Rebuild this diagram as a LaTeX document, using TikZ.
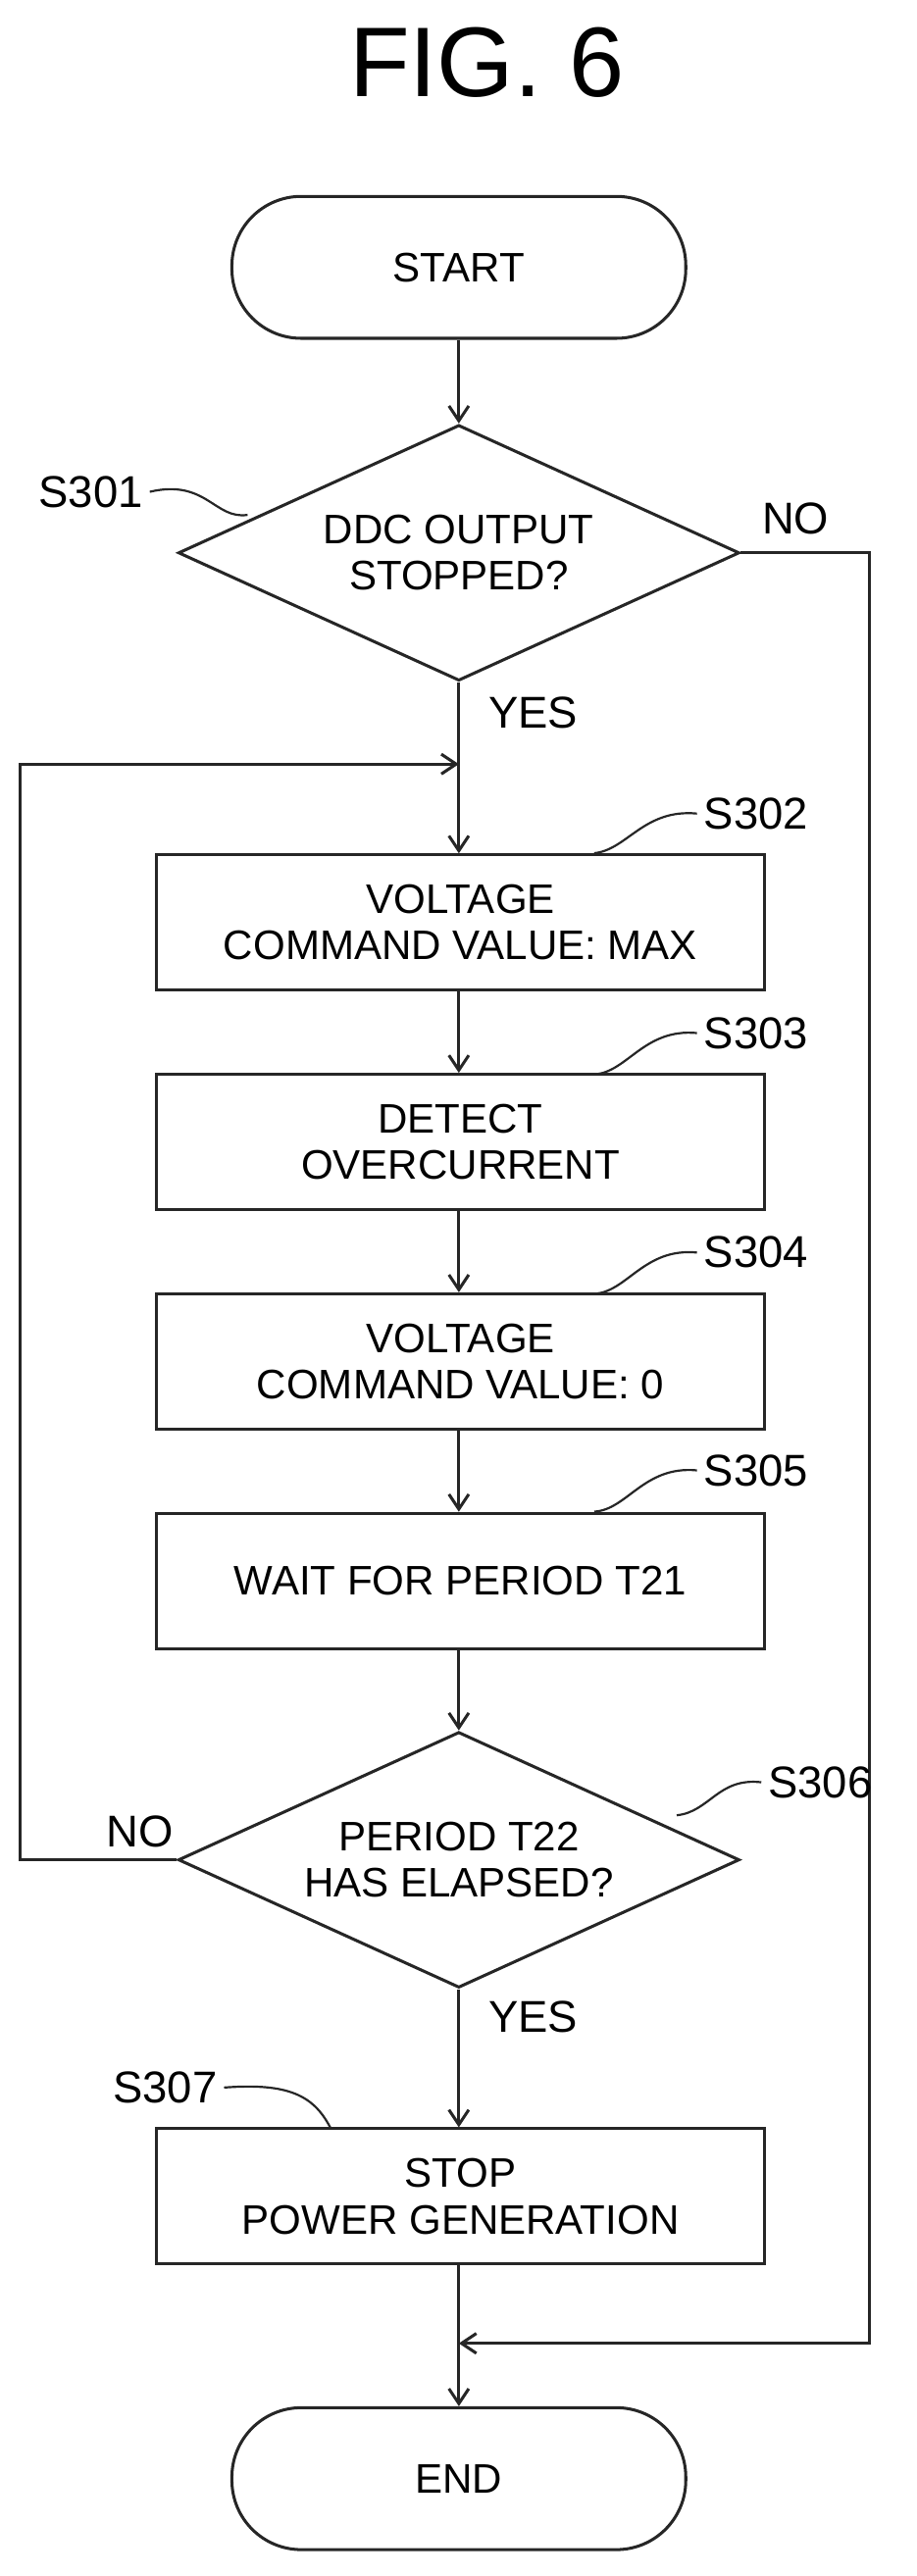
\documentclass[tikz,border=0pt]{standalone}
\usepackage{fontspec}
\setmainfont{Liberation Sans}
\usetikzlibrary{shapes.geometric,arrows.meta}
\begin{document}
\begin{tikzpicture}[x=1pt,y=-1pt,
  line width=1.8pt, draw=black!85,
  txt/.style={font=\fontsize{25}{28}\selectfont, align=center},
  box/.style={draw, minimum width=368pt, minimum height=82pt, txt},
  term/.style={draw, rounded corners=42pt, minimum width=275pt, minimum height=86pt, txt},
  dia/.style={draw, diamond, aspect=2.2, minimum width=340pt, minimum height=155pt, inner sep=0pt, txt},
  lab/.style={font=\fontsize{27}{30}\selectfont},
  arr/.style={-{Straight Barb[length=9pt,width=12pt]}},
  sq/.style={line width=1.3pt}]
\useasboundingbox (0,0) rectangle (555,1561);
\node[font=\fontsize{60}{62}\selectfont] (title) at (295,38) {FIG. 6};
\node[term] (start) at (278,162) {START};
\node[dia] (d1) at (278,335) {DDC OUTPUT\\STOPPED?};
\node[box] (b2) at (279,559) {VOLTAGE\\COMMAND VALUE: MAX};
\node[box] (b3) at (279,692) {DETECT\\OVERCURRENT};
\node[box] (b4) at (279,825) {VOLTAGE\\COMMAND VALUE: 0};
\node[box] (b5) at (279,958) {WAIT FOR PERIOD T21};
\node[dia] (d6) at (278,1127) {PERIOD T22\\HAS ELAPSED?};
\node[box] (b7) at (279,1331) {STOP\\POWER GENERATION};
\node[term] (end) at (278,1502) {END};
\coordinate (j1) at (278,463);
\coordinate (j2) at (278,1420);
\coordinate (r1) at (527,335);
\coordinate (r2) at (527,1420);
\coordinate (l1) at (12,1127);
\coordinate (l2) at (12,463);
\draw[arr] (start) -- (d1);
\draw (d1.south) -- (j1);
\draw[arr] (j1) -- (j1 |- b2.north);
\draw[arr] (j1 |- b2.south) -- (j1 |- b3.north);
\draw[arr] (j1 |- b3.south) -- (j1 |- b4.north);
\draw[arr] (j1 |- b4.south) -- (j1 |- b5.north);
\draw[arr] (j1 |- b5.south) -- (d6);
\draw[arr] (d6) -- (j1 |- b7.north);
\draw (j1 |- b7.south) -- (j2);
\draw[arr] (j2) -- (end);
\draw[arr] (d1.east) -- (r1) -- (r2) -- (j2);
\draw[arr] (d6.west) -- (l1) -- (l2) -- (j1);
\node[lab] (n1) at (482,314) {NO};
\node[lab] (y1) at (323,432) {YES};
\node[lab] (n6) at (85,1110) {NO};
\node[lab] (y6) at (323,1222) {YES};
\node[lab] (s301) at (55,298) {S301};
\node[lab] (s302) at (458,493) {S302};
\node[lab] (s303) at (458,626) {S303};
\node[lab] (s304) at (458,759) {S304};
\node[lab] (s305) at (458,891) {S305};
\node[lab] (s306) at (497,1080) {S306};
\node[lab] (s307) at (100,1265) {S307};
\draw[sq] (s301.east) .. controls (125,290) and (130,315) .. (150,312);
\draw[sq] (s302.west) .. controls (390,490) and (380,515) .. (360,517);
\draw[sq] (s303.west) .. controls (390,623) and (380,650) .. (360,651);
\draw[sq] (s304.west) .. controls (390,756) and (380,783) .. (360,784);
\draw[sq] (s305.west) .. controls (390,888) and (380,915) .. (360,916);
\draw[sq] (s306.west) .. controls (435,1077) and (430,1098) .. (410,1100);
\draw[sq] (s307.east) .. controls (175,1262) and (190,1270) .. (200,1289);
\end{tikzpicture}
\end{document}
